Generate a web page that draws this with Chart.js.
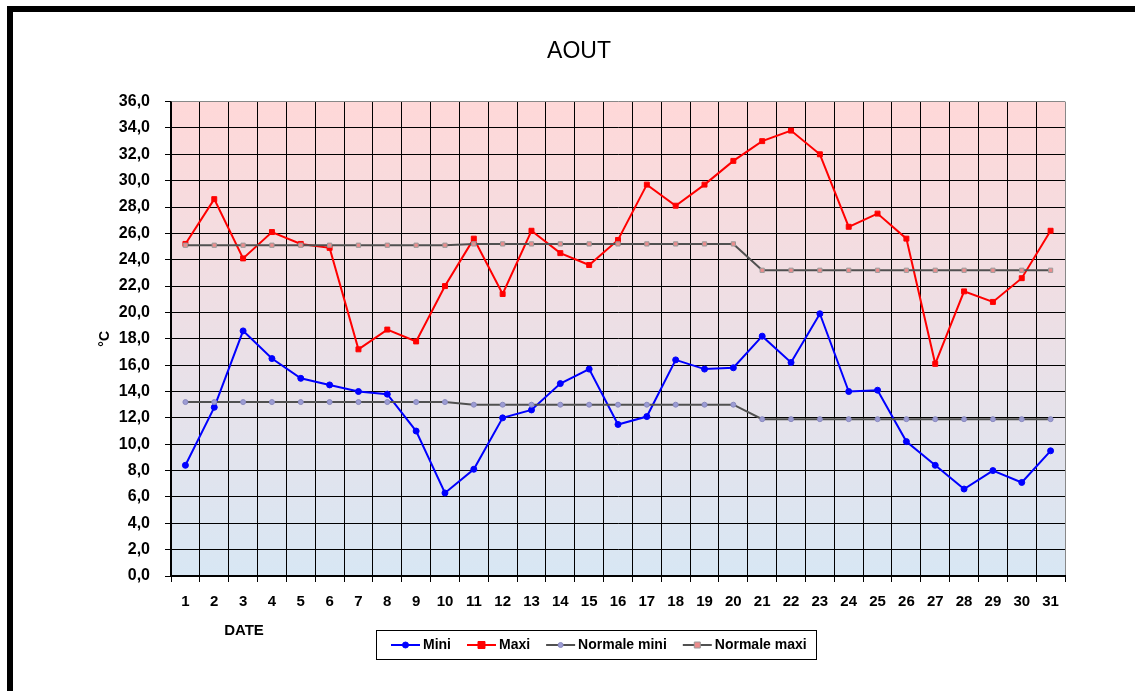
<!DOCTYPE html>
<html>
<head>
<meta charset="utf-8">
<title>AOUT</title>
<script src="https://cdn.jsdelivr.net/npm/chart.js@4.4.0/dist/chart.umd.min.js"></script>
<style>
  body { margin: 0; overflow: hidden; background: #fff; }
  #cadre { position: absolute; left: 7px; top: 6px; width: 1200px; height: 720px; border-top: 6px solid #000; border-left: 6px solid #000; }
  #graph { position: absolute; left: 0; top: 0; }
</style>
</head>
<body>
<div id="cadre"><canvas id="graph" width="1138" height="679"></canvas></div>
<script>
// jours du mois
var jours = ["1", "2", "3", "4", "5", "6", "7", "8", "9", "10", "11", "12", "13", "14", "15", "16",
  "17", "18", "19", "20", "21", "22", "23", "24", "25", "26", "27", "28", "29", "30", "31"];

// temperatures relevees
var tabMini = [8.4, 12.8, 18.6, 16.5, 15.0, 14.5, 14.0, 13.8, 11.0, 6.3, 8.1, 12.0, 12.6, 14.6, 15.7, 11.5,
  12.1, 16.4, 15.7, 15.8, 18.2, 16.2, 19.9, 14.0, 14.1, 10.2, 8.4, 6.6, 8.0, 7.1, 9.5];
var tabMaxi = [25.2, 28.6, 24.1, 26.1, 25.2, 24.9, 17.2, 18.7, 17.8, 22.0, 25.6, 21.4, 26.2, 24.5, 23.6, 25.5,
  29.7, 28.1, 29.7, 31.5, 33.0, 33.8, 32.0, 26.5, 27.5, 25.6, 16.1, 21.6, 20.8, 22.6, 26.2];

// normales
var tabNormaleMini = [13.2, 13.2, 13.2, 13.2, 13.2, 13.2, 13.2, 13.2, 13.2, 13.2, 13.0, 13.0, 13.0, 13.0, 13.0, 13.0,
  13.0, 13.0, 13.0, 13.0, 11.9, 11.9, 11.9, 11.9, 11.9, 11.9, 11.9, 11.9, 11.9, 11.9, 11.9];
var tabNormaleMaxi = [25.1, 25.1, 25.1, 25.1, 25.1, 25.1, 25.1, 25.1, 25.1, 25.1, 25.2, 25.2, 25.2, 25.2, 25.2, 25.2,
  25.2, 25.2, 25.2, 25.2, 23.2, 23.2, 23.2, 23.2, 23.2, 23.2, 23.2, 23.2, 23.2, 23.2, 23.2];

// axe des temperatures
var yMin = 0;
var yMax = 36;
var yPas = 2;

var police = '"Liberation Sans", Arial, sans-serif';
Chart.defaults.font.family = police;
Chart.defaults.color = "#000";

// fond degrade rose -> bleu
var fondDegrade = {
  id: "fondDegrade",
  beforeDraw: function (chart) {
    var a = chart.chartArea;
    var ctx = chart.ctx;
    var g = ctx.createLinearGradient(0, a.top, 0, a.bottom);
    g.addColorStop(0, "#FFD8D8");
    g.addColorStop(1, "#D8E7F4");
    ctx.save();
    ctx.fillStyle = g;
    ctx.fillRect(a.left, a.top, a.right - a.left, a.bottom - a.top);
    ctx.restore();
  }
};

// legende encadree + titre DATE facon Excel
var legendeExcel = {
  id: "legendeExcel",
  afterDraw: function (chart) {
    var ctx = chart.ctx;
    var a = chart.chartArea;
    var series = chart.data.datasets;
    ctx.save();

    ctx.font = "bold 15px " + police;
    ctx.textAlign = "center";
    ctx.textBaseline = "middle";
    ctx.fillStyle = "#000";
    ctx.fillText("DATE", a.left + 73, a.bottom + 55);

    ctx.font = "bold 14px " + police;
    ctx.textAlign = "left";
    var trait = 29, ecart = 3, entre = 16, margeG = 15, margeD = 9, h = 29;
    var largeurs = series.map(function (d) { return ctx.measureText(d.label).width; });
    var total = margeG + margeD;
    largeurs.forEach(function (w, i) { total += trait + ecart + w + (i > 0 ? entre : 0); });

    var x0 = Math.round(chart.width / 2 + 14 - total / 2);
    var y0 = Math.round(a.bottom + 54);
    ctx.fillStyle = "#fff";
    ctx.fillRect(x0, y0, total, h);
    ctx.strokeStyle = "#000";
    ctx.lineWidth = 1;
    ctx.strokeRect(x0 + 0.5, y0 + 0.5, Math.round(total), h);

    var x = x0 + margeG;
    var ym = y0 + h / 2 + 0.5;
    series.forEach(function (d, i) {
      ctx.strokeStyle = d.borderColor;
      ctx.lineWidth = 2;
      ctx.beginPath();
      ctx.moveTo(x, ym);
      ctx.lineTo(x + trait, ym);
      ctx.stroke();

      var cx = x + trait / 2;
      var r = d.pointRadius;
      ctx.fillStyle = d.pointBackgroundColor;
      ctx.strokeStyle = d.pointBorderColor;
      ctx.lineWidth = 1;
      ctx.beginPath();
      if (d.pointStyle === "rect") {
        ctx.rect(cx - r, ym - r, 2 * r, 2 * r);
      } else {
        ctx.arc(cx, ym, r, 0, Math.PI * 2);
      }
      ctx.fill();
      ctx.stroke();

      ctx.fillStyle = "#000";
      ctx.fillText(d.label, x + trait + ecart, ym);
      x += trait + ecart + largeurs[i] + entre;
    });
    ctx.restore();
  }
};

new Chart(document.getElementById("graph"),
{
  type: "line",
  data:
  {
    labels: jours,
    datasets:
    [{
      label: "Mini",
      data: tabMini,
      borderColor: "#0000FF",
      borderWidth: 2,
      pointStyle: "circle",
      pointRadius: 3,
      pointBackgroundColor: "#0000FF",
      pointBorderColor: "#0000FF",
      pointBorderWidth: 1,
      order: 4
    },
    {
      label: "Maxi",
      data: tabMaxi,
      borderColor: "#FF0000",
      borderWidth: 2,
      pointStyle: "rect",
      pointRadius: 3.5,
      pointBackgroundColor: "#FF0000",
      pointBorderColor: "#FF0000",
      pointBorderWidth: 1,
      order: 3
    },
    {
      label: "Normale mini",
      data: tabNormaleMini,
      borderColor: "#505050",
      borderWidth: 2,
      pointStyle: "circle",
      pointRadius: 2.5,
      pointBackgroundColor: "#9C9CD4",
      pointBorderColor: "#8A8AC0",
      pointBorderWidth: 1,
      order: 2
    },
    {
      label: "Normale maxi",
      data: tabNormaleMaxi,
      borderColor: "#505050",
      borderWidth: 2,
      pointStyle: "rect",
      pointRadius: 3,
      pointBackgroundColor: "#EC8C8C",
      pointBorderColor: "#9A9A9A",
      pointBorderWidth: 1,
      order: 1
    }]
  },
  options:
  {
    responsive: false,
    animation: false,
    layout: { padding: { left: 80, right: 86, top: 0, bottom: 69 } },
    plugins:
    {
      legend: { display: false },
      tooltip: { enabled: false },
      title:
      {
        display: true,
        text: "AOUT",
        font: { size: 23, weight: "normal" },
        padding: { top: 26, bottom: 36 }
      }
    },
    scales:
    {
      x:
      {
        offset: true,
        grid: { offset: true, color: function (c) { return c.type === "tick" ? "#000" : "#888"; }, tickColor: "#000", tickLength: 6, lineWidth: 1 },
        border: { color: "#000", width: 2 },
        ticks: { autoSkip: false, maxRotation: 0, padding: 11, font: { size: 15, weight: "bold" } }
      },
      y:
      {
        min: yMin,
        max: yMax,
        afterFit: function (scale) { scale.width = 78; },
        grid: { color: function (c) { return c.tick && c.tick.value === yMax ? "#888" : "#000"; }, tickColor: "#000", tickLength: 6, lineWidth: 1 },
        border: { color: "#000", width: 1.5 },
        title: { display: true, text: "°C", font: { size: 14, weight: "bold" }, padding: { top: 4, bottom: 0 } },
        ticks:
        {
          stepSize: yPas,
          autoSkip: false,
          padding: 15,
          font: { size: 16, weight: "bold" },
          callback: function (v) { return v.toFixed(1).replace(".", ","); }
        }
      }
    }
  },
  plugins: [fondDegrade, legendeExcel]
});
</script>
</body>
</html>
